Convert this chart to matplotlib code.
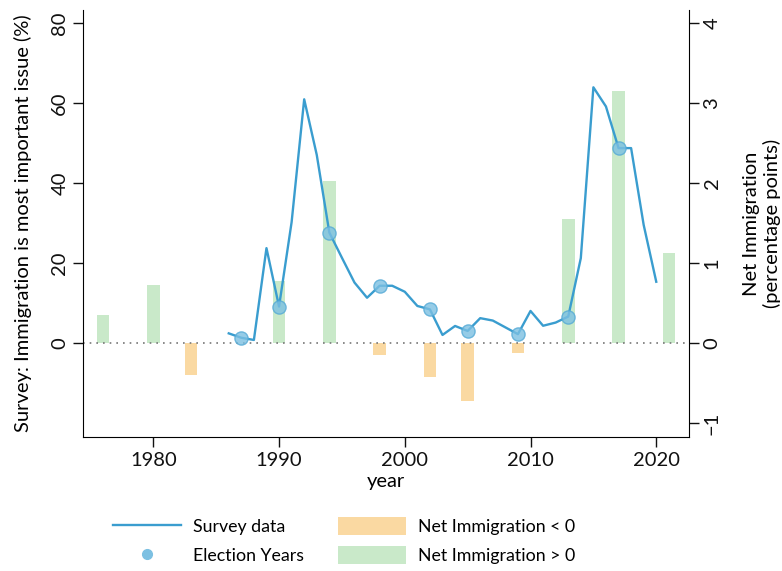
import matplotlib
matplotlib.use("Agg")
import matplotlib.pyplot as plt
from matplotlib.lines import Line2D
from matplotlib.patches import Patch

plt.rcParams['font.family'] = ['Lato', 'DejaVu Sans']

# Survey data (left axis, %)
survey_years = [1986, 1987, 1988, 1989, 1990, 1991, 1992, 1993, 1994, 1995, 1996, 1997,
                1998, 1999, 2000, 2001, 2002, 2003, 2004, 2005, 2006, 2007, 2008, 2009,
                2010, 2011, 2012, 2013, 2014, 2015, 2016, 2017, 2018, 2019, 2020]
survey_vals = [2.4, 1.3, 0.75, 23.7, 9.1, 30.2, 60.9, 47.0, 27.6, 21.3, 15.1, 11.3,
               14.3, 14.3, 12.8, 9.25, 8.4, 2.0, 4.25, 3.0, 6.2, 5.6, 3.9, 2.2,
               8.0, 4.3, 5.1, 6.6, 21.2, 63.9, 59.1, 48.7, 48.7, 29.5, 15.3]

# Election years (markers)
election_years = [1987, 1990, 1994, 1998, 2002, 2005, 2009, 2013, 2017]
election_vals = [1.3, 9.1, 27.6, 14.3, 8.4, 3.0, 2.2, 6.6, 48.7]

# Net immigration (right axis, percentage points)
net_years = [1976, 1980, 1983, 1990, 1994, 1998, 2002, 2005, 2009, 2013, 2017, 2021]
net_vals = [0.35, 0.73, -0.40, 0.77, 2.03, -0.15, -0.42, -0.73, -0.13, 1.55, 3.15, 1.13]

left_ticks = [0, 20, 40, 60, 80]
right_ticks = [-1, 0, 1, 2, 3, 4]
x_ticks = [1980, 1990, 2000, 2010, 2020]

line_col = '#3a9dcf'
green = '#c9e9c9'
orange = '#fad9a2'

fig = plt.figure(figsize=(7.82, 5.71), dpi=100)
ax = fig.add_axes([0.106, 0.2347, 0.775, 0.748])
ax2 = ax.twinx()

# bars on right axis
cols = [green if v > 0 else orange for v in net_vals]
ax2.bar(net_years, net_vals, width=1.0, color=cols, zorder=1)
ax2.axhline(0, color='#777777', linestyle=(0, (1, 3)), linewidth=1.2, zorder=2)

ax.set_zorder(ax2.get_zorder() + 1)
ax.patch.set_visible(False)

ax.plot(survey_years, survey_vals, color=line_col, linewidth=1.7, zorder=3)
ax.plot(election_years, election_vals, linestyle='none', marker='o', markersize=9.5,
        markerfacecolor='#7cc0e2', markeredgecolor='#55aad6', alpha=0.8,
        markeredgewidth=1.0, zorder=4)

ax.set_xlim(1974.4, 2022.6)
ax.set_ylim(-23.5, 83.25)
ax2.set_ylim(-23.5 / 20, 83.25 / 20)

ax.set_xticks(x_ticks)
ax.set_yticks(left_ticks)
ax2.set_yticks(right_ticks)

for a in (ax, ax2):
    a.spines['top'].set_visible(False)
    a.tick_params(length=7, width=1.0, labelsize=14.5, colors='#111111')
ax.spines['right'].set_visible(False)
ax2.spines['left'].set_visible(False)
ax2.spines['bottom'].set_visible(False)

for lab in ax.get_yticklabels():
    lab.set_rotation(90)
    lab.set_va('center')
for lab in ax2.get_yticklabels():
    lab.set_rotation(90)
    lab.set_va('center')

ax.set_xlabel('year', fontsize=14.5, labelpad=3)
ax.set_ylabel('Survey: Immigration is most important issue (%)', fontsize=14.5, labelpad=14)
ax2.set_ylabel('Net Immigration\n(percentage points)', fontsize=14.5, labelpad=16,
               linespacing=1.2)

handles = [
    Line2D([0], [0], color=line_col, linewidth=1.7),
    Line2D([0], [0], linestyle='none', marker='o', markersize=7,
           markerfacecolor='#7cc0e2', markeredgecolor='#7cc0e2'),
    Patch(facecolor=orange, edgecolor='none'),
    Patch(facecolor=green, edgecolor='none'),
]
labels = ['Survey data', 'Election Years', 'Net Immigration < 0', 'Net Immigration > 0']
fig.legend(handles, labels, ncol=2, loc='center', bbox_to_anchor=(0.44, 0.053),
           frameon=False, fontsize=12.8, handlelength=3.85, handleheight=1.2,
           columnspacing=1.9, labelspacing=0.6, handletextpad=0.67)

fig.savefig('out.png', dpi=100)
